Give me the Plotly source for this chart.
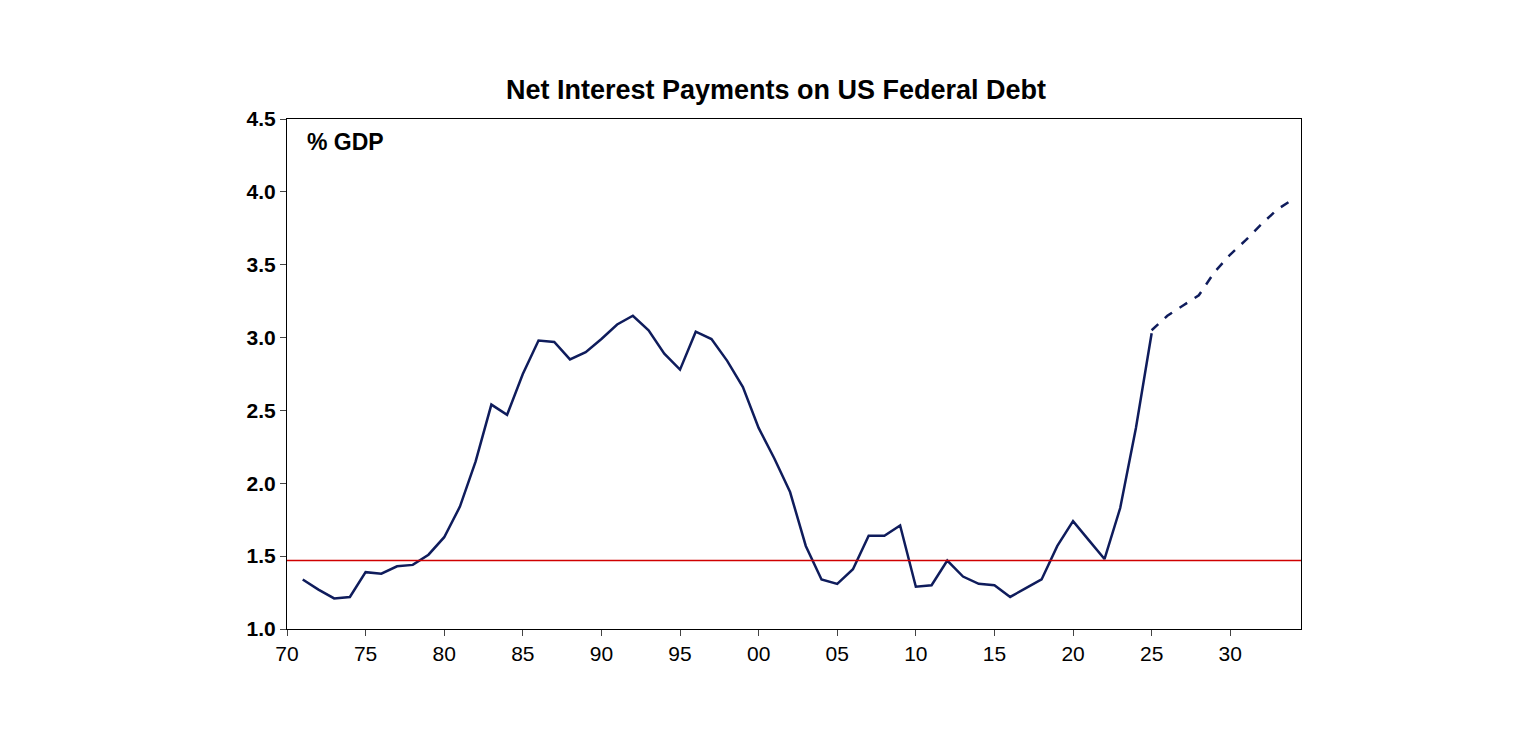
import plotly.graph_objects as go

years = list(range(1971, 2026))
actual = [1.34,1.27,1.21,1.22,1.39,1.38,1.43,1.44,1.51,1.63,1.84,2.15,2.54,2.47,2.75,2.98,2.97,2.85,2.90,2.99,
          3.09,3.15,3.05,2.89,2.78,3.04,2.99,2.84,2.66,2.38,2.17,1.94,1.57,1.34,1.31,1.41,1.64,1.64,1.71,1.29,
          1.30,1.47,1.36,1.31,1.30,1.22,1.28,1.34,1.57,1.74,1.61,1.48,1.83,2.38,3.03]
f_years = list(range(2025, 2035))
forecast = [3.05,3.15,3.22,3.29,3.45,3.57,3.67,3.78,3.88,3.95]
average = 1.47
tick_vals = list(range(1970, 2035, 5))
tick_text = ["70","75","80","85","90","95","00","05","10","15","20","25","30"]

navy = "#0f1c5c"
fig = go.Figure()
fig.add_trace(go.Scatter(x=years, y=actual, mode="lines", line=dict(color=navy, width=2.5)))
fig.add_trace(go.Scatter(x=f_years, y=forecast, mode="lines", line=dict(color=navy, width=2.5, dash="dash")))
fig.add_hline(y=average, line=dict(color="#d00000", width=1.5))
fig.add_annotation(text="<b>% GDP</b>", xref="paper", yref="paper", x=0.018, y=0.985,
                   xanchor="left", yanchor="top", showarrow=False, font=dict(size=23, color="black"))
fig.update_layout(
    width=1536, height=737, plot_bgcolor="white", paper_bgcolor="white", showlegend=False,
    font=dict(family="Liberation Sans, Arial", color="black"),
    title=dict(text="<b>Net Interest Payments on US Federal Debt</b>", x=0.5, xanchor="center",
               y=0.89, yanchor="middle", font=dict(size=27)),
    margin=dict(l=279, r=243, t=111, b=116),
    xaxis=dict(range=[1970, 2034.5], tickvals=tick_vals, ticktext=tick_text, showgrid=False,
               showline=True, linecolor="black", mirror=True, ticks="outside", ticklen=6,
               tickfont=dict(size=21), tickprefix="<b>", ticksuffix="</b>"),
    yaxis=dict(range=[1.0, 4.5], dtick=0.5, tickformat=".1f", showgrid=False, showline=True,
               linecolor="black", mirror=True, ticks="outside", ticklen=6,
               tickfont=dict(size=21), tickprefix="<b>", ticksuffix="</b>"),
)
fig.write_html("out.html")
